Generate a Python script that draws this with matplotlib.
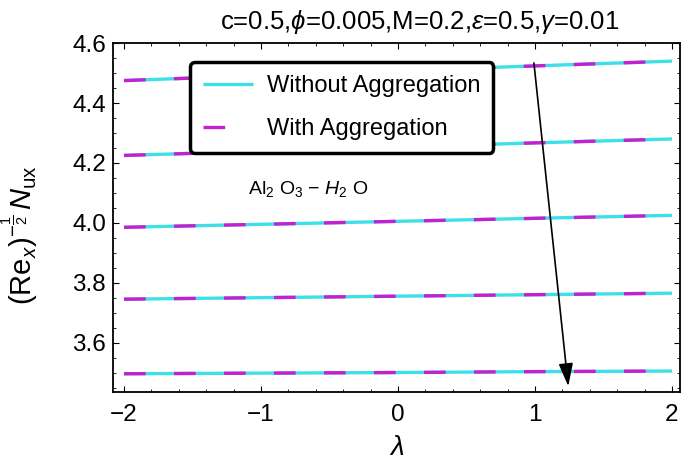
import numpy as np
import matplotlib
matplotlib.use("Agg")
import matplotlib.pyplot as plt
from matplotlib.ticker import MultipleLocator, FormatStrFormatter, FuncFormatter

plt.rcParams['font.family'] = ['Liberation Sans', 'DejaVu Sans']
plt.rcParams['mathtext.fontset'] = 'custom'
plt.rcParams['mathtext.rm'] = 'Liberation Sans'
plt.rcParams['mathtext.it'] = 'Liberation Sans:italic'

# data
lam = [-2, -1, 0, 1, 2]
nu_without = [
    [4.475, 4.492, 4.508, 4.524, 4.540],
    [4.225, 4.239, 4.253, 4.267, 4.280],
    [3.985, 3.995, 4.005, 4.015, 4.025],
    [3.745, 3.750, 3.755, 3.760, 3.765],
    [3.496, 3.498, 3.500, 3.503, 3.505],
]
nu_with = [
    [4.475, 4.492, 4.508, 4.524, 4.540],
    [4.225, 4.239, 4.253, 4.267, 4.280],
    [3.985, 3.995, 4.005, 4.015, 4.025],
    [3.745, 3.750, 3.755, 3.760, 3.765],
    [3.496, 3.498, 3.500, 3.503, 3.505],
]

cyan = '#3ee0e6'
magenta = '#c61fcf'

fig = plt.figure(figsize=(6.85, 4.67), dpi=100)
ax = fig.add_axes([0.165, 0.1606, 0.828, 0.747])

for i in range(len(nu_without)):
    ax.plot(lam, nu_without[i], color=cyan, lw=2.4, solid_capstyle='butt',
            label='Without Aggregation' if i == 0 else None, zorder=2)
    ax.plot(lam, nu_with[i], color=magenta, lw=2.4, dashes=(6.5, 8.5),
            label='With Aggregation' if i == 0 else None, zorder=3)

ax.set_xlim(-2.08, 2.06)
ax.set_ylim(3.435, 4.6)
ax.xaxis.set_major_locator(MultipleLocator(1))
ax.xaxis.set_minor_locator(MultipleLocator(0.2))
ax.yaxis.set_major_locator(MultipleLocator(0.2))
ax.yaxis.set_minor_locator(MultipleLocator(0.05))
ax.yaxis.set_major_formatter(FormatStrFormatter('%.1f'))
ax.xaxis.set_major_formatter(FuncFormatter(
    lambda v, p: ('\u2212%d' % -v) if v < 0 else '%d' % v))
ax.tick_params(which='both', direction='in', top=True, right=True, labelsize=17.5)
ax.tick_params(which='major', length=4, width=0.8)
ax.tick_params(which='minor', length=2, width=0.6)
ax.tick_params(axis='x', which='major', pad=9)
ax.tick_params(axis='y', which='major', pad=5)
for s in ax.spines.values():
    s.set_linewidth(1.3)

ax.set_xlabel(r'$\lambda$', fontsize=20, labelpad=6)
ax.set_ylabel(r'$(\mathrm{Re}_x)^{-\frac{1}{2}}\,N_{\mathrm{ux}}$', fontsize=21)
ax.yaxis.set_label_coords(-0.128, 0.45)
ax.set_title(r'c=0.5,$\phi$=0.005,M=0.2,$\varepsilon$=0.5,$\gamma$=0.01',
             fontsize=18.5, pad=10, x=0.54)

ax.annotate('', xy=(1.245, 3.445), xytext=(0.99, 4.543),
            arrowprops=dict(arrowstyle='-|>,head_length=0.7,head_width=0.22',
                            color='black', lw=1.2, mutation_scale=20))

ax.text(-1.095, 4.113, r'Al$_2$ O$_3$ $-$ $H_2$ O', fontsize=14, va='center')

leg = ax.legend(loc='upper left', bbox_to_anchor=(0.136, 0.946), borderaxespad=0,
                fontsize=17, frameon=True, fancybox=True, handlelength=2.1,
                handletextpad=0.6, borderpad=0.55, labelspacing=0.9)
frame = leg.get_frame()
frame.set_edgecolor('black')
frame.set_linewidth(2.5)
frame.set_alpha(1)
leg.set_zorder(5)

fig.savefig('out.png', dpi=100)
